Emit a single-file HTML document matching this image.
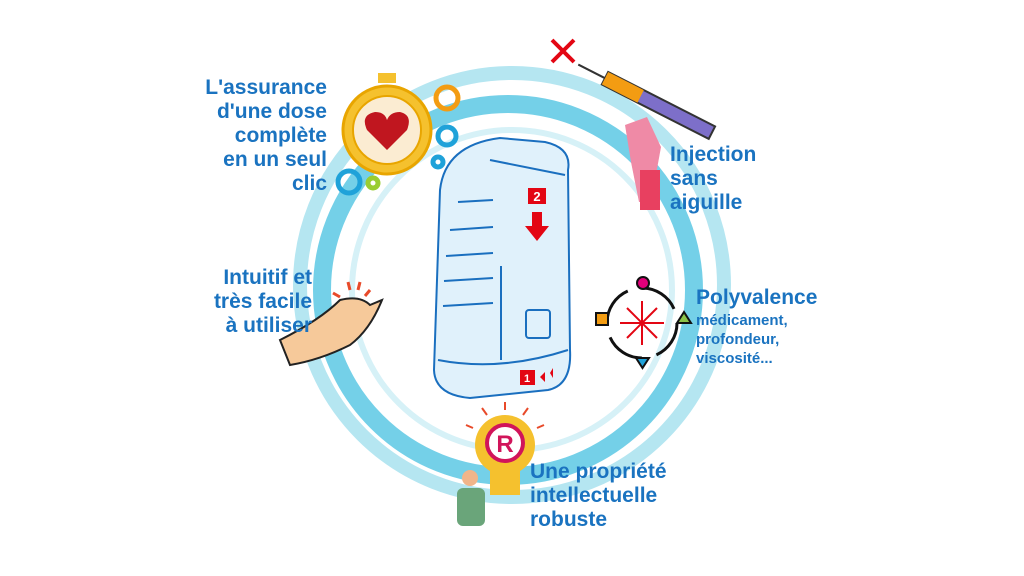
<!DOCTYPE html>
<html><head><meta charset="utf-8"><style>
body{margin:0;background:#fff;width:1024px;height:576px;overflow:hidden;font-family:"Liberation Sans",sans-serif}
.t{position:absolute;color:#1a73c0;font-weight:bold;font-size:21px;line-height:24px}
</style></head><body>
<svg width="1024" height="576" style="position:absolute;left:0;top:0">
<circle cx="512" cy="285" r="212" fill="none" stroke="#b5e6f1" stroke-width="14"/>
<circle cx="508" cy="290" r="186" fill="none" stroke="#74d0e8" stroke-width="18"/>
<circle cx="512" cy="290" r="160" fill="none" stroke="#d6f1f7" stroke-width="6"/>
<!-- device -->
<path d="M440 190 Q445 145 500 138 L545 142 Q572 148 568 170 L570 350 Q572 385 548 390 L470 398 Q435 395 434 370 Z" fill="#e0f1fb" stroke="#1a6fbf" stroke-width="2"/>
<path d="M490 160 Q540 170 565 175" fill="none" stroke="#1a6fbf" stroke-width="2"/>
<g stroke="#1a6fbf" stroke-width="2"><line x1="458" y1="202" x2="493" y2="200"/><line x1="450" y1="230" x2="493" y2="227"/><line x1="446" y1="256" x2="493" y2="253"/><line x1="444" y1="281" x2="493" y2="278"/><line x1="443" y1="306" x2="493" y2="303"/><line x1="501" y1="266" x2="501" y2="360"/><path d="M438 360 Q500 372 568 350" fill="none"/></g>
<rect x="526" y="310" width="24" height="28" rx="3" fill="none" stroke="#1a6fbf" stroke-width="2"/>
<rect x="528" y="188" width="18" height="16" fill="#e30613"/><text x="537" y="201" font-size="13" font-weight="bold" fill="#fff" text-anchor="middle">2</text>
<path d="M532 212 h10 v14 h7 l-12 15 l-12 -15 h7z" fill="#e30613"/>
<rect x="520" y="370" width="15" height="15" fill="#e30613"/><text x="527" y="382" font-size="11" font-weight="bold" fill="#fff" text-anchor="middle">1</text>
<path d="M545 372 l-5 5 l5 5z M553 368 l-3 5 l3 5z" fill="#e30613"/>
<!-- stopwatch -->
<circle cx="387" cy="130" r="44" fill="#f5c12e" stroke="#e8a500" stroke-width="3"/>
<circle cx="387" cy="130" r="34" fill="#fbecd2" stroke="#e8a500" stroke-width="2"/>
<rect x="378" y="73" width="18" height="10" fill="#f5c12e"/>
<path d="M387 150 L367 130 Q360 115 375 112 Q385 112 387 120 Q390 112 400 112 Q413 115 407 130Z" fill="#c0161f"/>
<g fill="none" stroke-width="5"><circle cx="447" cy="98" r="11" stroke="#f39c12"/><circle cx="447" cy="136" r="9" stroke="#1fa2d9"/><circle cx="349" cy="182" r="11" stroke="#1fa2d9"/><circle cx="373" cy="183" r="5" stroke="#9acd32"/><circle cx="438" cy="162" r="5" stroke="#1fa2d9"/></g>
<!-- syringe -->
<g transform="rotate(27 650 100)"><rect x="600" y="94" width="120" height="14" fill="#7d6fc9" stroke="#333" stroke-width="2"/><rect x="600" y="94" width="40" height="14" fill="#f39c12"/><line x1="570" y1="101" x2="600" y2="101" stroke="#333" stroke-width="2"/></g>
<path d="M552 40 l22 22 M574 40 l-22 22" stroke="#e30613" stroke-width="4"/>
<path d="M625 125 l22 -8 l14 30 l-10 55 l-12 0 l-8 -40 z" fill="#ef8aa6"/>
<rect x="640" y="170" width="20" height="40" fill="#e84060"/>
<!-- hand -->
<path d="M280 340 Q320 320 340 300 Q360 295 370 305 L382 300 Q370 330 350 345 Q320 360 290 365Z" fill="#f6c99a" stroke="#222" stroke-width="2"/>
<g stroke="#e84a2a" stroke-width="3"><line x1="348" y1="282" x2="350" y2="290"/><line x1="360" y1="282" x2="358" y2="290"/><line x1="370" y1="290" x2="365" y2="296"/><line x1="333" y1="293" x2="340" y2="297"/></g>
<!-- polyvalence -->
<circle cx="642" cy="323" r="35" fill="none" stroke="#111" stroke-width="3" stroke-dasharray="40 15"/>
<g stroke="#e30613" stroke-width="2"><line x1="620" y1="323" x2="664" y2="323"/><line x1="642" y1="301" x2="642" y2="345"/><line x1="627" y1="308" x2="657" y2="338"/><line x1="657" y1="308" x2="627" y2="338"/></g>
<circle cx="643" cy="283" r="6" fill="#e2007a" stroke="#111" stroke-width="2"/>
<rect x="596" y="313" width="12" height="12" fill="#f39c12" stroke="#111" stroke-width="2"/>
<path d="M684 312 l7 11 h-14z" fill="#8bc34a" stroke="#111" stroke-width="2"/>
<path d="M636 358 h13 l-6.5 10z" fill="#1fa2d9" stroke="#111" stroke-width="2"/>
<!-- bulb -->
<g stroke="#e84a2a" stroke-width="2"><line x1="505" y1="402" x2="505" y2="410"/><line x1="482" y1="408" x2="487" y2="415"/><line x1="528" y1="408" x2="523" y2="415"/><line x1="466" y1="425" x2="473" y2="428"/><line x1="544" y1="425" x2="537" y2="428"/></g>
<circle cx="505" cy="445" r="30" fill="#f5c12e"/>
<rect x="490" y="470" width="30" height="25" fill="#f5c12e"/>
<circle cx="505" cy="443" r="18" fill="#fff" stroke="#d1145a" stroke-width="4"/>
<text x="505" y="452" font-size="24" font-weight="bold" fill="#d1145a" text-anchor="middle">R</text>
<rect x="457" y="488" width="28" height="38" rx="6" fill="#6aa57a"/>
<circle cx="470" cy="478" r="8" fill="#f0b58a"/>
</svg>
<div class="t" style="left:205px;top:76px;text-align:right;width:122px">L'assurance<br>d'une dose<br>complète<br>en un seul<br>clic</div>
<div class="t" style="left:190px;top:266px;text-align:right;width:122px">Intuitif et<br>très facile<br>à utiliser</div>
<div class="t" style="left:670px;top:143px">Injection<br>sans<br>aiguille</div>
<div class="t" style="left:696px;top:286px">Polyvalence</div>
<div class="t" style="left:696px;top:311px;font-size:15px;line-height:19px">médicament,<br>profondeur,<br>viscosité...</div>
<div class="t" style="left:530px;top:460px">Une propriété<br>intellectuelle<br>robuste</div>
</body></html>
